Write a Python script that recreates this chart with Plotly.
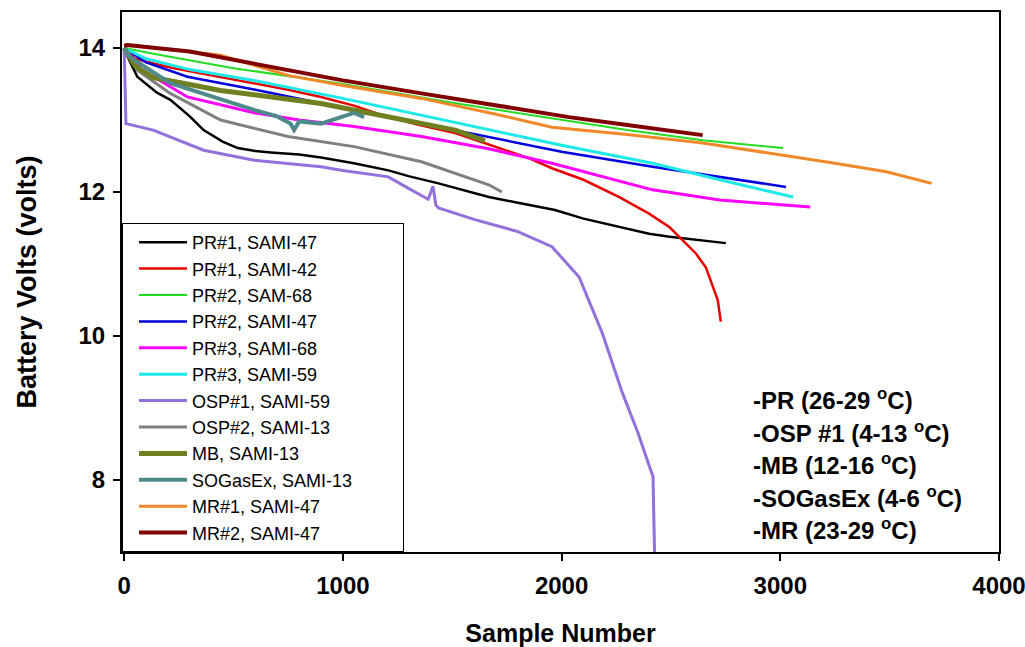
import plotly.graph_objects as go

# ---------------- data ----------------
names = ["PR#1, SAMI-47", "PR#1, SAMI-42", "PR#2, SAM-68", "PR#2, SAMI-47",
         "PR#3, SAMI-68", "PR#3, SAMI-59", "OSP#1, SAMI-59", "OSP#2, SAMI-13",
         "MB, SAMI-13", "SOGasEx, SAMI-13", "MR#1, SAMI-47", "MR#2, SAMI-47"]

pr1_47_x = [0, 20, 60, 150, 211, 300, 363, 450, 519, 600, 670, 800, 900, 1050, 1208,
            1300, 1437, 1550, 1667, 1800, 1970, 2100, 2264, 2400, 2494, 2650, 2751]
pr1_47_y = [14.0, 13.85, 13.6, 13.38, 13.28, 13.05, 12.86, 12.7, 12.61, 12.57, 12.55,
            12.52, 12.48, 12.4, 12.3, 12.22, 12.12, 12.03, 11.93, 11.85, 11.75, 11.63,
            11.51, 11.42, 11.38, 11.32, 11.29]

pr1_42_x = [0, 50, 211, 400, 594, 750, 900, 1050, 1208, 1350, 1513, 1700, 1850, 1956,
            2100, 2264, 2400, 2494, 2613, 2660, 2691, 2714, 2728]
pr1_42_y = [14.0, 13.85, 13.73, 13.62, 13.51, 13.42, 13.32, 13.2, 13.04, 12.93, 12.82,
            12.62, 12.47, 12.33, 12.17, 11.93, 11.7, 11.51, 11.15, 10.95, 10.69, 10.5, 10.2]

pr2_68_x = [0, 133, 500, 1000, 1500, 2000, 2300, 2645, 2850, 3013]
pr2_68_y = [14.0, 13.92, 13.72, 13.5, 13.24, 13.0, 12.86, 12.72, 12.66, 12.61]

pr2_47_x = [0, 100, 289, 600, 1000, 1500, 2000, 2416, 2723, 3026]
pr2_47_y = [14.0, 13.8, 13.6, 13.42, 13.17, 12.87, 12.56, 12.35, 12.21, 12.07]

pr3_68_x = [0, 80, 289, 594, 800, 1051, 1359, 1667, 1956, 2200, 2416, 2723, 2950, 3137]
pr3_68_y = [14.0, 13.7, 13.32, 13.1, 13.0, 12.91, 12.77, 12.6, 12.4, 12.2, 12.03, 11.89,
            11.83, 11.79]

pr3_59_x = [0, 100, 300, 594, 1000, 1500, 2000, 2416, 2723, 3059]
pr3_59_y = [14.0, 13.85, 13.7, 13.55, 13.3, 12.97, 12.65, 12.4, 12.17, 11.93]

osp1_59_x = [0, 3, 8, 133, 363, 594, 900, 1000, 1208, 1300, 1359, 1390, 1412, 1425,
             1437, 1600, 1800, 1956, 2080, 2186, 2278, 2350, 2400, 2418, 2425]
osp1_59_y = [14.0, 13.6, 12.95, 12.86, 12.58, 12.44, 12.35, 12.3, 12.21, 12.05, 11.95,
             11.9, 12.08, 11.82, 11.78, 11.62, 11.45, 11.24, 10.82, 10.04, 9.21, 8.65,
             8.2, 8.05, 7.0]

osp2_13_x = [0, 60, 211, 441, 749, 1051, 1359, 1550, 1667, 1727]
osp2_13_y = [14.0, 13.69, 13.37, 13.0, 12.77, 12.63, 12.42, 12.22, 12.1, 12.0]

mb_13_x = [0, 50, 133, 441, 900, 1208, 1513, 1650]
mb_13_y = [14.0, 13.75, 13.59, 13.41, 13.23, 13.04, 12.86, 12.71]

sog_13_x = [0, 28, 211, 441, 594, 700, 760, 777, 800, 900, 1000, 1051, 1097]
sog_13_y = [14.0, 13.87, 13.51, 13.28, 13.14, 13.05, 12.95, 12.86, 12.98, 12.95, 13.05,
            13.1, 13.04]

mr1_47_x = [0, 441, 749, 1000, 1359, 1700, 1956, 2300, 2645, 3026, 3250, 3485, 3692]
mr1_47_y = [14.05, 13.9, 13.62, 13.48, 13.3, 13.08, 12.9, 12.8, 12.68, 12.51, 12.4,
            12.28, 12.12]

mr2_47_x = [0, 14, 300, 749, 1000, 1359, 1700, 2034, 2300, 2645]
mr2_47_y = [14.03, 14.04, 13.95, 13.69, 13.55, 13.37, 13.2, 13.04, 12.93, 12.79]

notes = ["-PR (26-29 <sup>o</sup>C)", "-OSP #1 (4-13 <sup>o</sup>C)",
         "-MB (12-16 <sup>o</sup>C)", "-SOGasEx (4-6 <sup>o</sup>C)",
         "-MR (23-29 <sup>o</sup>C)"]
note_y = [9.12, 8.67, 8.22, 7.77, 7.32]

x_ticks = [0, 1000, 2000, 3000, 4000]
y_ticks = [8, 10, 12, 14]

# ---------------- styling ----------------
series = [(pr1_47_x, pr1_47_y), (pr1_42_x, pr1_42_y), (pr2_68_x, pr2_68_y),
          (pr2_47_x, pr2_47_y), (pr3_68_x, pr3_68_y), (pr3_59_x, pr3_59_y),
          (osp1_59_x, osp1_59_y), (osp2_13_x, osp2_13_y), (mb_13_x, mb_13_y),
          (sog_13_x, sog_13_y), (mr1_47_x, mr1_47_y), (mr2_47_x, mr2_47_y)]
colors = ["#000000", "#E80000", "#22DD22", "#0000E0", "#FF00FF", "#1EE8E8",
          "#9370DB", "#808080", "#6F8020", "#4F8A8B", "#F0882A", "#800000"]
widths = [2.5, 2.5, 2, 2.5, 3, 3, 3, 3, 5, 4, 3, 4]

FONT = "Liberation Sans, Arial, sans-serif"

fig = go.Figure()
for nm, (xs, ys), c, w in zip(names, series, colors, widths):
    label = nm + ("\u00a0" * 9 if nm.startswith("SOGasEx") else "")
    fig.add_trace(go.Scatter(x=xs, y=ys, mode="lines", name=label,
                             line=dict(color=c, width=w)))

for t, yv in zip(notes, note_y):
    fig.add_annotation(x=2865, y=yv, xref="x", yref="y", text=t, showarrow=False,
                       xanchor="left", yanchor="middle",
                       font=dict(family=FONT, size=24, color="black", weight="bold"))

axis_common = dict(ticks="outside", ticklen=7, tickwidth=2, tickcolor="black",
                   showline=True, linewidth=2, linecolor="black", mirror=True,
                   showgrid=False, zeroline=False, automargin=False,
                   ticklabeloverflow="allow")

fig.update_layout(
    width=1025, height=647,
    margin=dict(l=122, r=26, t=12, b=95),
    paper_bgcolor="white", plot_bgcolor="white",
    font=dict(family=FONT, color="black"),
    showlegend=True,
    legend=dict(x=0, y=0, xanchor="left", yanchor="bottom",
                bgcolor="white", bordercolor="black", borderwidth=1,
                font=dict(family=FONT, size=18, color="black"),
                itemwidth=48, indentation=11),
    xaxis=dict(range=[-10, 4000], tickvals=x_ticks, ticklabelstandoff=4,
               tickfont=dict(family=FONT, size=24, weight="bold"),
               title=dict(text="Sample Number", standoff=28,
                          font=dict(family=FONT, size=25, weight="bold")),
               **axis_common),
    yaxis=dict(range=[7, 14.5], tickvals=y_ticks, ticklabelstandoff=3,
               tickfont=dict(family=FONT, size=24, weight="bold"),
               title=dict(text="Battery Volts (volts)", standoff=34,
                          font=dict(family=FONT, size=27, weight="bold")),
               **axis_common),
)

fig.write_html("out.html")
